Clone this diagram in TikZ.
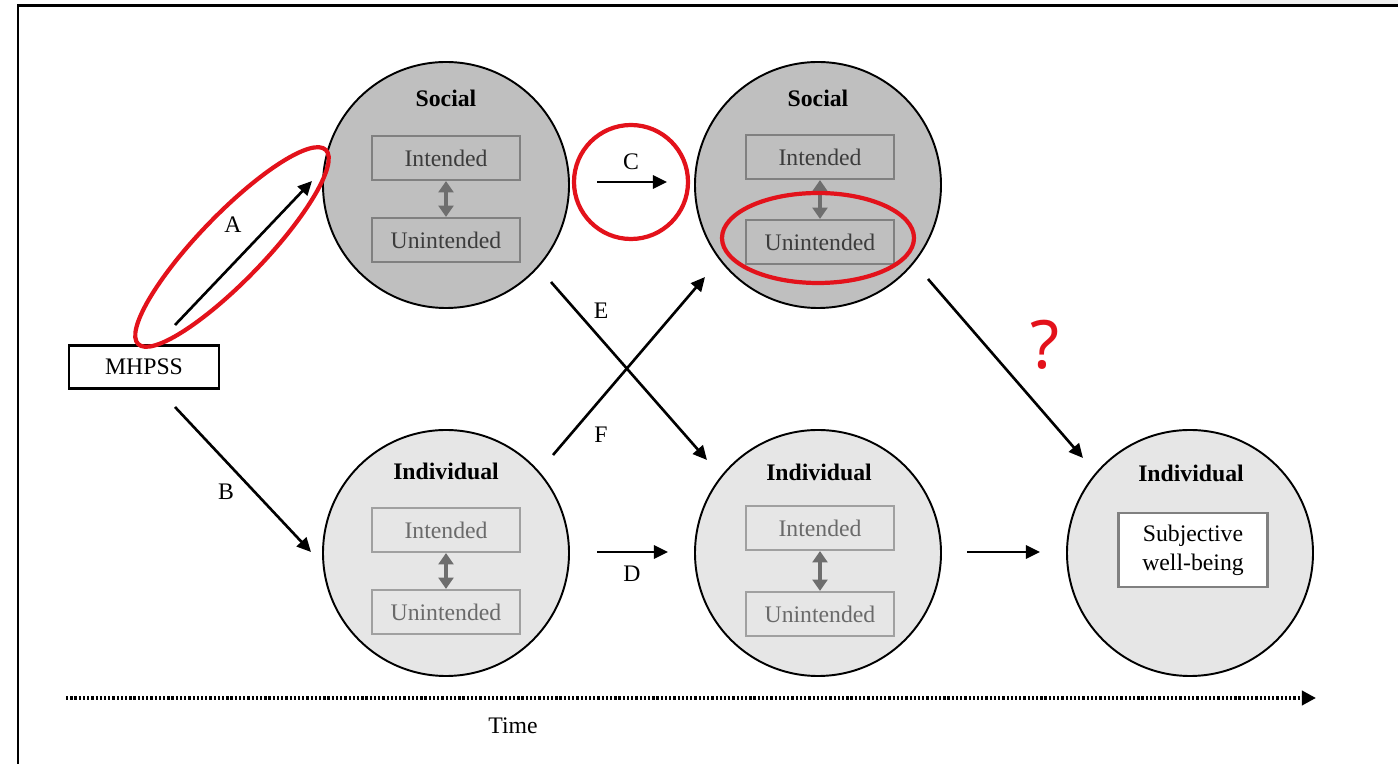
\documentclass[tikz,border=0pt]{standalone}
\usepackage{fontspec}
\setmainfont{Liberation Serif}
\newfontfamily\qfont{Noto Sans}
\usetikzlibrary{arrows.meta}
\definecolor{socfill}{HTML}{BFBFBF}
\definecolor{indfill}{HTML}{E6E6E6}
\definecolor{boxedge}{HTML}{808080}
\definecolor{boxedgelt}{HTML}{A0A0A0}
\definecolor{boxtext}{HTML}{3C3C3C}
\definecolor{boxtextlt}{HTML}{6A6A6A}
\definecolor{linkgray}{HTML}{6E6E6E}
\definecolor{markred}{HTML}{E3121B}
\tikzset{
  soc/.style={circle, draw=black, fill=socfill, line width=1.1pt, minimum size=4.92cm, inner sep=0pt},
  ind/.style={soc, fill=indfill},
  ttl/.style={font=\fontsize{13.5}{16}\selectfont\bfseries, inner sep=0pt},
  sbox/.style={draw=boxedge, line width=1.2pt, minimum width=2.96cm, minimum height=0.88cm, inner sep=0pt, text=boxtext, font=\fontsize{13.5}{16}\selectfont},
  ibox/.style={sbox, draw=boxedgelt, text=boxtextlt},
  wbbox/.style={draw=boxedge, fill=white, line width=1.2pt, minimum width=2.98cm, minimum height=1.48cm, inner sep=0pt, align=center, font=\fontsize{13.5}{16.5}\selectfont},
  srcbox/.style={draw=black, fill=white, line width=1.3pt, minimum width=3.0cm, minimum height=0.86cm, inner sep=0pt, font=\fontsize{13.5}{16}\selectfont},
  lbl/.style={font=\fontsize{13.5}{16}\selectfont, inner sep=0pt},
  link/.style={-{Triangle[length=8pt,width=7.5pt]}, line width=1.5pt},
  twin/.style={{Triangle[length=6.5pt,width=8.5pt]}-{Triangle[length=6.5pt,width=8.5pt]}, draw=linkgray, line width=2.2pt},
  timeax/.style={-{Triangle[length=8pt,width=8pt]}, line width=2pt, dash pattern=on 1.3pt off 1.1pt},
  hilite/.style={draw=markred, line width=2.4pt},
  qmark/.style={font=\qfont\fontsize{38}{42}\selectfont, text=markred, inner sep=0pt},
}

\begin{document}
\begin{tikzpicture}[x=1cm,y=1cm]
  \useasboundingbox (0,0) rectangle (27.96,-15.28);
  \fill[black!6] (24.80,0) rectangle (27.96,-0.09);
  \draw[line width=1.7pt] (27.96,-0.12) -- (0.36,-0.12) -- (0.36,-15.28);

  \node[soc] (soc1) at (8.92,-3.70) {};
  \node[soc] (soc2) at (16.36,-3.70) {};
  \node[ind] (ind1) at (8.92,-11.06) {};
  \node[ind] (ind2) at (16.36,-11.06) {};
  \node[ind] (ind3) at (23.80,-11.06) {};

  \node[ttl] (soc1t) at (8.92,-1.96) {Social};
  \node[sbox] (soc1a) at (8.92,-3.16) {Intended};
  \node[sbox] (soc1b) at (8.92,-4.80) {Unintended};
  \draw[twin] (soc1a) -- (soc1b);

  \node[ttl] (soc2t) at (16.36,-1.96) {Social};
  \node[sbox] (soc2a) at (16.40,-3.14) {Intended};
  \node[sbox] (soc2b) at (16.40,-4.84) {Unintended};
  \draw[twin] (soc2a) -- (soc2b);

  \node[ttl] (ind1t) at (8.92,-9.42) {Individual};
  \node[ibox] (ind1a) at (8.92,-10.60) {Intended};
  \node[ibox] (ind1b) at (8.92,-12.24) {Unintended};
  \draw[twin] (ind1a) -- (ind1b);

  \node[ttl] (ind2t) at (16.38,-9.44) {Individual};
  \node[ibox] (ind2a) at (16.40,-10.56) {Intended};
  \node[ibox] (ind2b) at (16.40,-12.28) {Unintended};
  \draw[twin] (ind2a) -- (ind2b);

  \node[ttl] (ind3t) at (23.82,-9.46) {Individual};
  \node[wbbox] (swb) at (23.86,-11.00) {Subjective\\well-being};

  \node[srcbox] (mhpss) at (2.88,-7.34) {MHPSS};

  \coordinate (a0) at (3.50,-6.50);  \coordinate (a1) at (6.24,-3.62);
  \coordinate (b0) at (3.50,-8.14);  \coordinate (b1) at (6.22,-11.04);
  \coordinate (c0) at (11.94,-3.64); \coordinate (c1) at (13.34,-3.64);
  \coordinate (d0) at (11.94,-11.04); \coordinate (d1) at (13.36,-11.04);
  \coordinate (e0) at (11.02,-5.64); \coordinate (e1) at (14.14,-9.20);
  \coordinate (f0) at (11.06,-9.10); \coordinate (f1) at (14.10,-5.54);
  \coordinate (g0) at (18.56,-5.58); \coordinate (g1) at (21.66,-9.16);
  \coordinate (h0) at (19.34,-11.04); \coordinate (h1) at (20.80,-11.04);
  \draw[link] (a0) -- (a1);
  \draw[link] (b0) -- (b1);
  \draw[link] (c0) -- (c1);
  \draw[link] (d0) -- (d1);
  \draw[link] (e0) -- (e1);
  \draw[link] (f0) -- (f1);
  \draw[link] (g0) -- (g1);
  \draw[link] (h0) -- (h1);

  \node[lbl] (la) at (4.66,-4.50) {A};
  \node[lbl] (lb) at (4.52,-9.84) {B};
  \node[lbl] (lc) at (12.62,-3.24) {C};
  \node[lbl] (ld) at (12.64,-11.48) {D};
  \node[lbl] (le) at (12.02,-6.22) {E};
  \node[lbl] (lf) at (12.02,-8.70) {F};

  \coordinate (t0) at (1.32,-13.96); \coordinate (t1) at (26.32,-13.96);
  \draw[timeax] (t0) -- (t1);
  \node[lbl] (time) at (10.26,-14.52) {Time};

  \draw[hilite, rotate around={46:(4.64,-4.94)}] (4.64,-4.94) ellipse (2.70cm and 0.66cm);
  \draw[hilite] (12.62,-3.64) circle (1.14cm);
  \draw[hilite] (16.36,-4.76) ellipse (1.92cm and 0.90cm);
  \node[qmark] (ask) at (20.90,-6.90) {?};
\end{tikzpicture}
\end{document}
